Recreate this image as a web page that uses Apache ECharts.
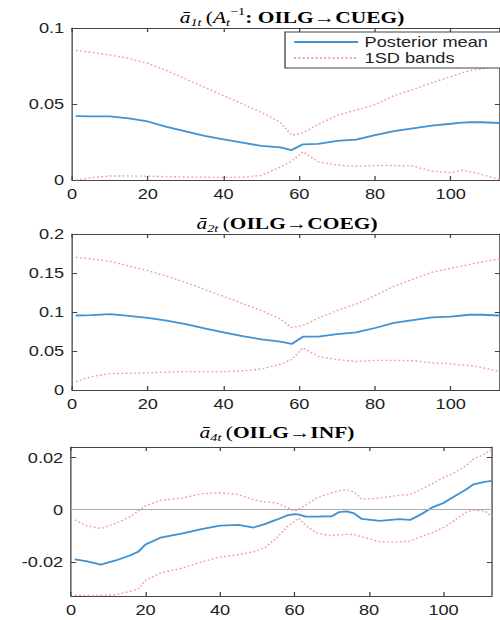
<!DOCTYPE html>
<html>
<head>
<meta charset="utf-8">
<script src="https://cdn.jsdelivr.net/npm/echarts@6/dist/echarts.min.js"></script>
<style>
html,body{margin:0;padding:0;background:#fff;overflow:hidden;}
#wrap{width:500px;height:620px;overflow:hidden;position:relative;}
#chart{width:384.6px;height:620px;transform:scaleX(1.3);transform-origin:0 0;}
</style>
</head>
<body>
<div id="wrap"><div id="chart"></div></div>
<script>
// ---------- data ----------
const xTicks = [0, 20, 40, 60, 80, 100];
const xMax = 113;

const t12 = [1,5,10,15,20,25,30,35,40,45,50,55,58,61,65,70,75,80,85,90,95,100,103,105,108,113];

const p1Mean  = [0.042,0.0418,0.0418,0.0405,0.0385,0.035,0.032,0.029,0.0268,0.0246,0.0224,0.0215,0.0197,0.0235,0.0238,0.0258,0.0265,0.0295,0.0322,0.034,0.0358,0.037,0.0378,0.038,0.038,0.0375];
const p1Upper = [0.0853,0.084,0.0822,0.080,0.0768,0.072,0.0665,0.061,0.0555,0.050,0.0445,0.038,0.0295,0.031,0.0365,0.0425,0.046,0.0495,0.0555,0.0595,0.064,0.068,0.0705,0.072,0.073,0.0755];
const p1Lower = [0.0,0.0015,0.0026,0.0026,0.0025,0.0022,0.002,0.0018,0.0017,0.0018,0.003,0.0085,0.0125,0.0185,0.012,0.0098,0.009,0.0095,0.0095,0.0092,0.0058,0.0048,0.0065,0.0055,0.0038,0.0002];
const p1YTicks = [0, 0.05, 0.1];

const p2Mean  = [0.0955,0.096,0.0972,0.095,0.0925,0.089,0.0845,0.079,0.074,0.069,0.065,0.062,0.059,0.0685,0.0685,0.0715,0.074,0.0795,0.086,0.0895,0.093,0.094,0.0955,0.0965,0.0965,0.0955];
const p2Upper = [0.17,0.168,0.165,0.159,0.153,0.146,0.138,0.129,0.12,0.111,0.102,0.091,0.08,0.083,0.092,0.102,0.11,0.121,0.133,0.142,0.151,0.156,0.159,0.161,0.164,0.168];
const p2Lower = [0.0107,0.017,0.021,0.0215,0.022,0.023,0.0235,0.0235,0.0235,0.0245,0.027,0.033,0.039,0.054,0.043,0.039,0.0365,0.038,0.038,0.0375,0.035,0.0335,0.032,0.0315,0.029,0.0235];
const p2YTicks = [0, 0.05, 0.1, 0.15, 0.2];

const t3 = [1,4,8,12,16,18,20,24,30,35,40,45,49,52,55,58,60,61,63,66,70,72,74,76,78,83,88,91,94,97,100,103,106,108,111,113];
const p3Mean  = [-0.019,-0.0197,-0.021,-0.0194,-0.0174,-0.0161,-0.0133,-0.0107,-0.009,-0.0074,-0.0061,-0.0058,-0.0068,-0.0055,-0.0039,-0.0022,-0.0017,-0.0018,-0.0026,-0.0026,-0.0025,-0.0009,-0.0006,-0.0014,-0.0035,-0.0043,-0.0036,-0.0039,-0.0017,0.0009,0.0026,0.0052,0.0077,0.0097,0.0107,0.011];
const p3Upper = [-0.0039,-0.006,-0.0072,-0.0052,-0.0026,-0.0005,0.0015,0.0036,0.0045,0.0061,0.0065,0.0058,0.0038,0.003,0.0026,0.0009,-0.0006,0.0002,0.0018,0.0045,0.0065,0.0073,0.0077,0.0068,0.004,0.0045,0.0055,0.0058,0.0078,0.01,0.0123,0.0142,0.0168,0.0194,0.0213,0.0232];
const p3Lower = [-0.0327,-0.0328,-0.0328,-0.0325,-0.0312,-0.0303,-0.027,-0.0242,-0.0223,-0.02,-0.0181,-0.0172,-0.0161,-0.0145,-0.011,-0.0065,-0.0045,-0.0032,-0.006,-0.009,-0.0099,-0.0096,-0.0094,-0.0095,-0.0103,-0.0123,-0.0123,-0.012,-0.0103,-0.0088,-0.0068,-0.004,-0.001,-0.0002,-0.0004,-0.0026];
const p3YTicks = [-0.02, 0, 0.02];

const titles = [
  '{i|ā}{sub|1t} {r|(}{i|A}{sub|t}{sup|−1}{b|: OILG→CUEG)}',
  '{i|ā}{sub|2t} {r|(}{b|OILG→COEG)}',
  '{i|ā}{sub|4t} {r|(}{b|OILG→INF)}'
];
const seriesNames = ['Posterior mean', '1SD bands'];

// ---------- layout ----------
const S = 1.3;
const panels = [
  {t: t12, mean: p1Mean, up: p1Upper, lo: p1Lower, yMin: 0, yMax: 0.1, yTicks: p1YTicks,
   left: 72, width: 428, top: 28, height: 152, titleX: 292, titleY: 17, zero: false},
  {t: t12, mean: p2Mean, up: p2Upper, lo: p2Lower, yMin: 0, yMax: 0.2, yTicks: p2YTicks,
   left: 72, width: 428, top: 234, height: 156, titleX: 287, titleY: 223, zero: false},
  {t: t3, mean: p3Mean, up: p3Upper, lo: p3Lower, yMin: -0.033, yMax: 0.024, yTicks: p3YTicks,
   left: 71, width: 421, top: 447, height: 149, titleX: 277, titleY: 432, zero: true}
];

const frameColor = '#444';
const labelColor = '#222';
const blue = '#4293d4';
const pink = '#f4a0ab';
const TF = 16.5;

const grids = [], xAxes = [], yAxes = [], series = [], graphics = [];
const rich = {
  i: {fontFamily: 'Liberation Serif', fontStyle: 'italic', fontSize: TF, color: '#222', lineHeight: 22, verticalAlign: 'middle'},
  r: {fontFamily: 'Liberation Serif', fontSize: TF, color: '#222', lineHeight: 22, verticalAlign: 'middle'},
  b: {fontFamily: 'Liberation Serif', fontWeight: 'bold', fontSize: TF, color: '#222', lineHeight: 22, verticalAlign: 'middle'},
  sub: {fontFamily: 'Liberation Serif', fontStyle: 'italic', fontSize: 11, color: '#222', verticalAlign: 'bottom'},
  sup: {fontFamily: 'Liberation Serif', fontSize: 11, color: '#222', verticalAlign: 'top'}
};

panels.forEach((p, k) => {
  grids.push({left: p.left / S, top: p.top, width: p.width / S, height: p.height, containLabel: false});
  const tickStyle = {show: true, inside: true, length: 4, lineStyle: {color: frameColor, width: 1}};
  const lineStyle = {show: true, onZero: false, lineStyle: {color: frameColor, width: 1}};
  xAxes.push({
    type: 'value', gridIndex: k, position: 'bottom', min: 0, max: xMax,
    axisLine: lineStyle, axisTick: Object.assign({customValues: xTicks}, tickStyle),
    axisLabel: {customValues: xTicks, color: labelColor, fontFamily: 'Liberation Sans', fontSize: 14, margin: 7},
    splitLine: {show: false}
  });
  xAxes.push({
    type: 'value', gridIndex: k, position: 'top', min: 0, max: xMax,
    axisLine: lineStyle, axisTick: Object.assign({customValues: xTicks}, tickStyle),
    axisLabel: {show: false}, splitLine: {show: false}
  });
  yAxes.push({
    type: 'value', gridIndex: k, position: 'left', min: p.yMin, max: p.yMax,
    axisLine: lineStyle, axisTick: Object.assign({customValues: p.yTicks}, tickStyle),
    axisLabel: {customValues: p.yTicks, color: labelColor, fontFamily: 'Liberation Sans', fontSize: 14, margin: 6},
    splitLine: {show: false}
  });
  yAxes.push({
    type: 'value', gridIndex: k, position: 'right', min: p.yMin, max: p.yMax,
    axisLine: lineStyle, axisTick: Object.assign({customValues: p.yTicks}, tickStyle),
    axisLabel: {show: false}, splitLine: {show: false}
  });
  const pair = v => p.t.map((x, i) => [x, v[i]]);
  const band = v => ({
    name: seriesNames[1], type: 'line', xAxisIndex: 2 * k, yAxisIndex: 2 * k,
    data: pair(v), showSymbol: false, symbol: 'none', silent: true, z: 2,
    lineStyle: {color: pink, width: 1.4, type: [1.5, 1.8]}, itemStyle: {color: pink, opacity: 0}
  });
  series.push(band(p.up));
  series.push(band(p.lo));
  const mean = {
    name: seriesNames[0], type: 'line', xAxisIndex: 2 * k, yAxisIndex: 2 * k,
    data: pair(p.mean), showSymbol: false, symbol: 'none', silent: true, z: 3,
    lineStyle: {color: blue, width: 1.8}, itemStyle: {color: blue, opacity: 0}
  };
  if (p.zero) {
    mean.markLine = {
      silent: true, symbol: 'none', label: {show: false},
      lineStyle: {color: '#aaa', type: 'solid', width: 1},
      data: [{yAxis: 0}]
    };
  }
  series.push(mean);
  graphics.push({
    type: 'text', x: p.titleX / S, y: p.titleY, z: 10,
    style: {text: titles[k], rich: rich, align: 'center', verticalAlign: 'middle'}
  });
});

const chart = echarts.init(document.getElementById('chart'), null, {renderer: 'svg'});
chart.setOption({
  animation: false,
  backgroundColor: '#fff',
  grid: grids,
  xAxis: xAxes,
  yAxis: yAxes,
  graphic: graphics,
  legend: {
    data: seriesNames,
    orient: 'vertical',
    left: 285 / S, top: 32,
    itemWidth: 64 / S, itemHeight: 10, itemGap: 2,
    padding: [3, 12, 3, 6],
    borderColor: '#444', borderWidth: 1, backgroundColor: '#fff',
    itemStyle: {opacity: 0},
    textStyle: {color: '#222', fontFamily: 'Liberation Sans', fontSize: 14, padding: [0, 0, 0, 0]},
    selectedMode: false
  },
  series: series
});
</script>
</body>
</html>
